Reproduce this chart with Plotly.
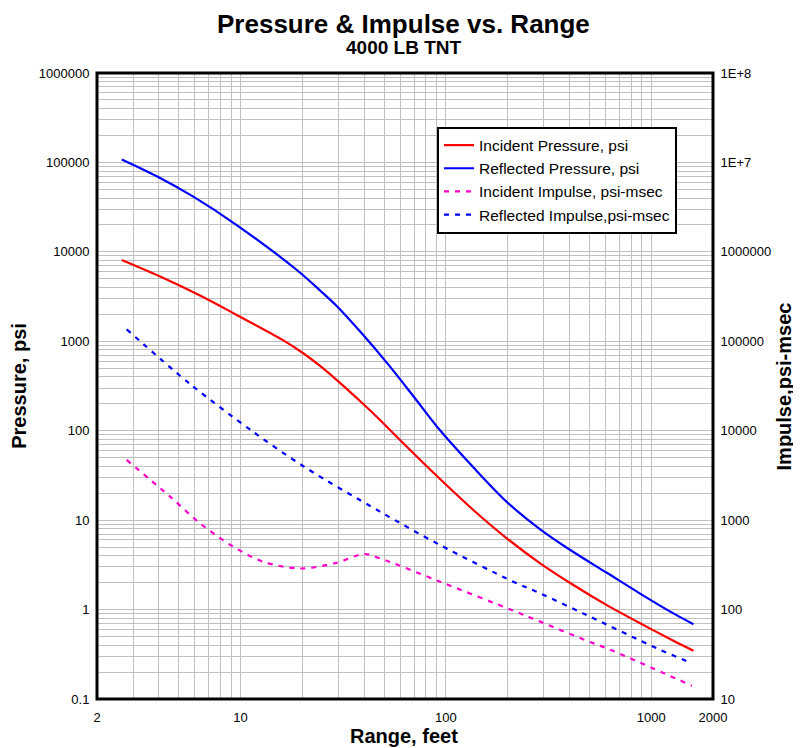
import numpy as np
import plotly.graph_objects as go

# Incident pressure, psi (left axis)
ip_range = [2.64, 4.06, 6.35, 9.58, 16.1, 20.2, 24.4, 28.8, 39.6, 47.8, 59.8, 93.7, 136, 198, 288, 418, 608, 883, 1283, 1607]
ip_psi = [8110, 5300, 3250, 1970, 1030, 735, 530, 385, 199, 132, 78.7, 28.8, 13.0, 6.27, 3.29, 1.88, 1.12, 0.703, 0.449, 0.347]

# Reflected pressure, psi (left axis)
rp_range = [2.64, 3.91, 5.89, 9.58, 18.8, 24.4, 29.4, 39.6, 52.5, 69.5, 93.7, 136, 198, 288, 418, 608, 883, 1283, 1607]
rp_psi = [108000, 70000, 41400, 19950, 6270, 3700, 2480, 1175, 548, 243, 101, 39.0, 16.0, 7.9, 4.4, 2.58, 1.51, 0.906, 0.685]

# Incident impulse, psi-msec (right axis)
ii_range = [2.79, 4.54, 6.35, 9.06, 12.9, 19.5, 29.4, 40.0, 47.8, 93.7, 213, 288, 485, 608, 1578]
ii_imp = [4710, 1830, 923, 518, 343, 288, 334, 418, 374, 205, 97.3, 73.3, 44.9, 36.9, 14.1]

# Reflected impulse, psi-msec (right axis)
ri_range = [2.79, 5.68, 11.5, 20.6, 47.8, 93.7, 213, 288, 485, 1064, 1578]
ri_imp = [136000, 33300, 9750, 3900, 1245, 527, 205, 152, 86.9, 36.9, 25.1]

x_labels = {2: "2", 10: "10", 100: "100", 1000: "1000", 2000: "2000"}
y_labels = ["0.1", "1", "10", "100", "1000", "10000", "100000", "1000000"]
y2_labels = ["10", "100", "1000", "10000", "100000", "1000000", "1E+7", "1E+8"]

FONT = "Liberation Sans, Arial, sans-serif"
GRID = "#c0c0c0"
DASH = "5px,6px"

# gridlines at 1..9 per decade, labels only where wanted
x_vals = [m * d for d in [1, 10, 100, 1000] for m in range(1, 10) if 2 <= m * d <= 2000]
x_text = [x_labels.get(v, "") for v in x_vals]

y_vals, y_text = [], []
for i, d in enumerate([0.1, 1, 10, 100, 1000, 10000, 100000, 1000000]):
    for m in range(1, 10):
        if d == 1000000 and m > 1:
            break
        y_vals.append(round(m * d, 6))
        y_text.append(y_labels[i] if m == 1 else "")

fig = go.Figure()
fig.add_trace(go.Scatter(x=ip_range, y=ip_psi, name="Incident Pressure, psi", mode="lines",
                         line=dict(color="#ff0000", width=2.2, shape="spline", smoothing=0.9)))
fig.add_trace(go.Scatter(x=rp_range, y=rp_psi, name="Reflected Pressure, psi", mode="lines",
                         line=dict(color="#0000ff", width=2.2, shape="spline", smoothing=0.9)))
fig.add_trace(go.Scatter(x=ii_range, y=ii_imp, name="Incident Impulse, psi-msec", mode="lines", yaxis="y2",
                         line=dict(color="#ff00cc", width=2.2, dash=DASH, shape="spline", smoothing=0.9)))
fig.add_trace(go.Scatter(x=ri_range, y=ri_imp, name="Reflected Impulse,psi-msec", mode="lines", yaxis="y2",
                         line=dict(color="#0000ff", width=2.2, dash=DASH, shape="spline", smoothing=0.9)))

# page has an 8px body margin, so the figure is sized/margined to land on the reference pixels
fig.update_layout(
    width=793, height=740,
    margin=dict(l=89, r=88, t=65, b=49),
    paper_bgcolor="white", plot_bgcolor="white",
    font=dict(family=FONT, size=13, color="black"),
    showlegend=True,
    legend=dict(x=0.552, y=0.829, xanchor="left", yanchor="middle",
                bgcolor="white", bordercolor="black", borderwidth=2,
                font=dict(size=15.5), tracegroupgap=0),
    xaxis=dict(type="log", range=[np.log10(2), np.log10(2000)],
               tickmode="array", tickvals=x_vals, ticktext=x_text,
               showgrid=True, gridcolor=GRID, gridwidth=1, zeroline=False,
               ticks="outside", ticklen=6, tickcolor="rgba(0,0,0,0)",
               tickfont=dict(size=13)),
    yaxis=dict(type="log", range=[-1, 6],
               tickmode="array", tickvals=y_vals, ticktext=y_text,
               showgrid=True, gridcolor=GRID, gridwidth=1, zeroline=False,
               ticks="outside", ticklen=4, tickcolor="rgba(0,0,0,0)",
               tickfont=dict(size=13)),
    yaxis2=dict(type="log", range=[1, 8], overlaying="y", side="right",
                tickmode="array", tickvals=[10 ** k for k in range(1, 9)], ticktext=y2_labels,
                showgrid=False, zeroline=False,
                ticks="outside", ticklen=4, tickcolor="rgba(0,0,0,0)",
                tickfont=dict(size=13)),
)

fig.add_shape(type="rect", xref="paper", yref="paper", x0=0, x1=1, y0=0, y1=1,
              line=dict(color="black", width=3), layer="above")

titles = [
    ("<b>Pressure & Impulse vs. Range</b>", 0.497, 1.078, 26, 0),
    ("<b>4000 LB TNT</b>", 0.497, 1.040, 19, 0),
    ("<b>Range, feet</b>", 0.499, -0.059, 20, 0),
    ("<b>Pressure, psi</b>", -0.127, 0.5, 20, -90),
    ("<b>Impulse,psi-msec</b>", 1.116, 0.5, 20, -90),
]
for text, x, y, size, angle in titles:
    fig.add_annotation(text=text, xref="paper", yref="paper", x=x, y=y,
                       xanchor="center", yanchor="middle", textangle=angle,
                       showarrow=False, font=dict(size=size, family=FONT))

fig.write_html("out.html")
